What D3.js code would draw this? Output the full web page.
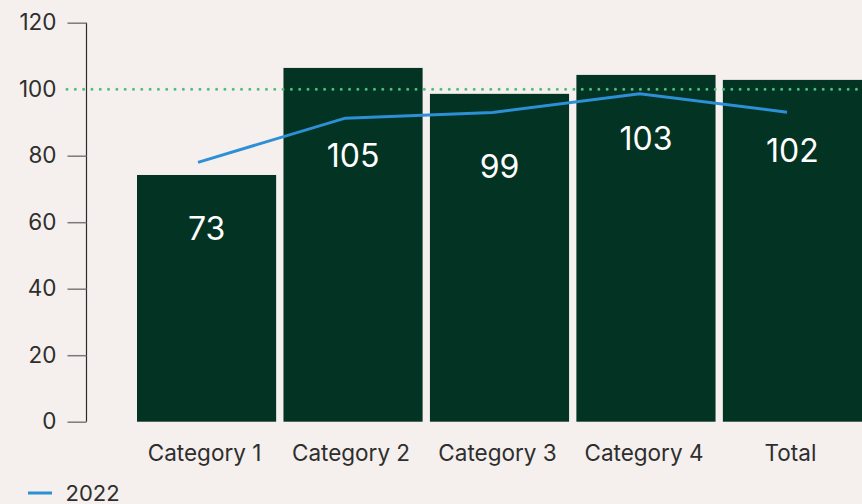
<!DOCTYPE html>
<html>
<head>
<meta charset="utf-8">
<script src="https://cdn.jsdelivr.net/npm/d3@7"></script>
<style>
  html, body { margin: 0; padding: 0; background: #f5f0ed; }
  svg { display: block; }
  text { font-family: Inter, "Noto Sans", sans-serif; }
</style>
</head>
<body>
<svg id="chart" width="862" height="504"></svg>
<script>
const categories = ["Category 1", "Category 2", "Category 3", "Category 4", "Total"];
const barValues = [74.2, 106.4, 98.6, 104.3, 102.8];
const barLabels = ["73", "105", "99", "103", "102"];
const labelLevels = [58.0, 80.2, 76.8, 85.3, 81.6];
const lineValues = [78.0, 91.3, 93.0, 98.6, 93.1];
const seriesName = "2022";
const yTicks = [0, 20, 40, 60, 80, 100, 120];
const targetValue = 100;

const svg = d3.select("#chart");
const W = 862, H = 504;

const y = d3.scaleLinear().domain([0, 120]).range([421.7, 22.7]);
const x = d3.scaleBand().domain(categories).range([137, 862]).paddingInner(0.05).paddingOuter(0);
const xLine = d3.scalePoint().domain(categories).range([198, 787]);

// y axis
const yAxis = d3.axisLeft(y).tickValues(yTicks).tickSize(19).tickPadding(11).tickFormat(d3.format("d"));
const gy = svg.append("g").attr("transform", "translate(86.5,0)").call(yAxis);
gy.select(".domain").attr("stroke", "#2b2b2b").attr("stroke-width", 1.2).attr("d", `M0,${y(120)}V${y(0)}`);
gy.selectAll(".tick line").attr("stroke", "#7a7a7a").attr("stroke-width", 1.5)
  .attr("opacity", d => d === targetValue ? 0 : 1);
gy.selectAll(".tick text").attr("fill", "#2e2e2e").style("font-size", "22.5px").style("font-family", "Inter, sans-serif");

// bars
svg.append("g").selectAll("rect").data(categories).join("rect")
  .attr("x", d => x(d))
  .attr("width", x.bandwidth())
  .attr("y", (d, i) => y(barValues[i]))
  .attr("height", (d, i) => y(0) - y(barValues[i]))
  .attr("fill", "#033323");

// target dotted line
svg.append("line")
  .attr("x1", 67).attr("x2", W)
  .attr("y1", y(targetValue)).attr("y2", y(targetValue))
  .attr("stroke", "#4fbd82").attr("stroke-width", 3)
  .attr("stroke-dasharray", "0.01,8.3").attr("stroke-linecap", "round");

// line series
const line = d3.line().x((d, i) => xLine(categories[i])).y(d => y(d));
svg.append("path").datum(lineValues)
  .attr("d", line).attr("fill", "none")
  .attr("stroke", "#2d8fd5").attr("stroke-width", 3);

// bar value labels
svg.append("g").selectAll("text").data(categories).join("text")
  .attr("x", d => x(d) + x.bandwidth() / 2)
  .attr("y", (d, i) => y(labelLevels[i]))
  .attr("dy", "0.36em")
  .attr("text-anchor", "middle")
  .attr("fill", "#ffffff")
  .style("font-size", "32px")
  .text((d, i) => barLabels[i]);

// x labels
svg.append("g").selectAll("text").data(categories).join("text")
  .attr("x", d => x(d) + x.bandwidth() / 2 - 2)
  .attr("y", 461)
  .attr("text-anchor", "middle")
  .attr("fill", "#2e2e2e")
  .style("font-size", "22.5px")
  .text(d => d);

// legend
const lg = svg.append("g");
lg.append("line").attr("x1", 28).attr("x2", 52).attr("y1", 493).attr("y2", 493)
  .attr("stroke", "#2d8fd5").attr("stroke-width", 3);
lg.append("text").attr("x", 65.5).attr("y", 501).attr("fill", "#2e2e2e")
  .style("font-size", "22px").text(seriesName);
</script>
</body>
</html>
